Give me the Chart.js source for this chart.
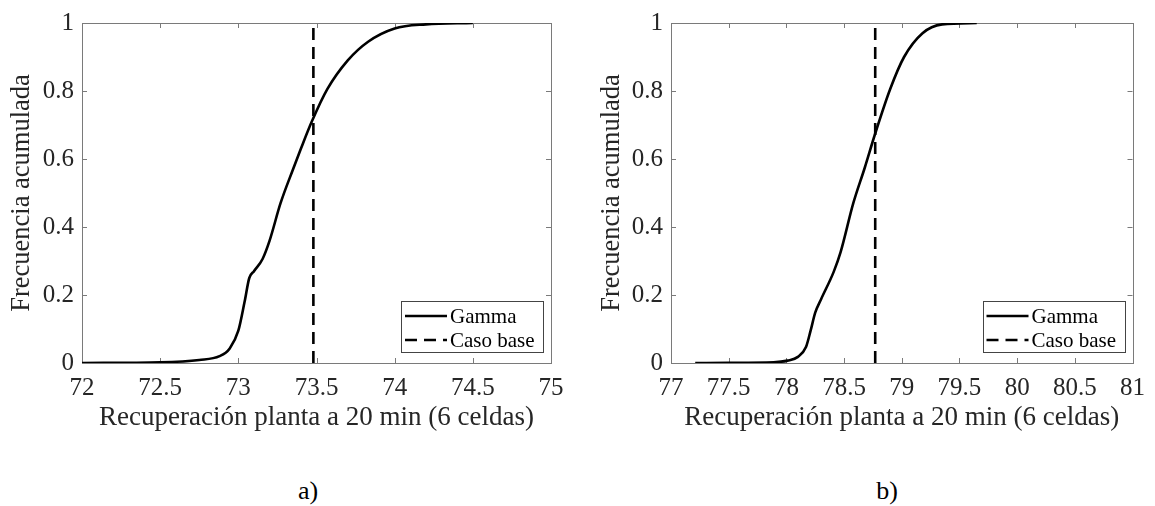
<!DOCTYPE html>
<html>
<head>
<meta charset="utf-8">
<script src="https://cdn.jsdelivr.net/npm/chart.js@4"></script>
<style>
body{margin:0;background:#fff;width:1155px;height:506px;position:relative;overflow:hidden;font-family:"Liberation Serif",serif;}
.panel{position:absolute;top:0;height:450px;}
.cap{position:absolute;font-size:26px;color:#000;transform:translate(-50%,-50%);}
</style>
</head>
<body>
<div class="panel" style="left:0;width:590px"><canvas id="chartA"></canvas></div>
<div class="panel" style="left:590px;width:565px"><canvas id="chartB"></canvas></div>
<div class="cap" style="left:308px;top:491px">a)</div>
<div class="cap" style="left:887px;top:491px">b)</div>
<script>
// panel a) - recuperación (%), frecuencia acumulada
const gammaAx = [72.0, 72.5, 72.75, 72.88, 72.945, 73.0, 73.04, 73.07, 73.1, 73.155, 73.2, 73.27, 73.35, 73.4, 73.47, 73.57, 73.7, 73.83, 74.0, 74.2, 74.5];
const gammaAy = [0.0, 0.002, 0.009, 0.02, 0.043, 0.095, 0.18, 0.25, 0.27, 0.306, 0.36, 0.47, 0.57, 0.63, 0.71, 0.806, 0.89, 0.945, 0.984, 0.996, 1.0];
const baseA = 73.48;

// panel b)
const gammaBx = [77.21, 77.5, 77.89, 78.01, 78.1, 78.17, 78.21, 78.25, 78.3, 78.41, 78.47, 78.58, 78.68, 78.77, 78.9, 79.02, 79.18, 79.35, 79.65];
const gammaBy = [0.0, 0.0005, 0.002, 0.007, 0.018, 0.047, 0.095, 0.148, 0.187, 0.268, 0.326, 0.47, 0.575, 0.675, 0.806, 0.90, 0.97, 0.996, 1.0];
const baseB = 78.77;

const xTitle = 'Recuperación planta a 20 min (6 celdas)';
const yTitle = 'Frecuencia acumulada';
const labels = ['Gamma', 'Caso base'];

const axisColor = '#7a7a7a';
const textColor = '#262626';
Chart.defaults.font.family = '"Liberation Serif", "Times New Roman", serif';
Chart.defaults.color = textColor;

// matlab style numbers: 1, 0.8, 72, 72.5
const fmt = v => String(+v.toFixed(2));

// box round the plot plus inward ticks on all four sides
const boxTicks = {
    id: 'boxTicks',
    beforeDatasetsDraw(chart) {
        const {ctx, chartArea: a, scales: {x, y}} = chart;
        ctx.save();
        ctx.strokeStyle = axisColor;
        ctx.lineWidth = 1;
        ctx.strokeRect(Math.round(a.left) + 0.5, Math.round(a.top) + 0.5, Math.round(a.right - a.left), Math.round(a.bottom - a.top));
        ctx.beginPath();
        x.ticks.forEach(t => {
            const px = Math.round(x.getPixelForValue(t.value)) + 0.5;
            ctx.moveTo(px, a.bottom); ctx.lineTo(px, a.bottom - 5);
            ctx.moveTo(px, a.top); ctx.lineTo(px, a.top + 5);
        });
        y.ticks.forEach(t => {
            const py = Math.round(y.getPixelForValue(t.value)) + 0.5;
            ctx.moveTo(a.left, py); ctx.lineTo(a.left + 5, py);
            ctx.moveTo(a.right, py); ctx.lineTo(a.right - 5, py);
        });
        ctx.stroke();
        ctx.restore();
    }
};

// legend inside the plot, lower right corner
const innerLegend = {
    id: 'innerLegend',
    afterDraw(chart) {
        const {ctx, chartArea: a} = chart;
        const w = 142, h = 51;
        const left = a.right - 8 - w, top = a.bottom - 11 - h;
        ctx.save();
        ctx.fillStyle = '#fff';
        ctx.fillRect(left, top, w, h);
        ctx.strokeStyle = '#444';
        ctx.lineWidth = 1;
        ctx.strokeRect(Math.round(left) + 0.5, Math.round(top) + 0.5, w, h);
        ctx.font = '21px "Liberation Serif", serif';
        ctx.textBaseline = 'middle';
        chart.data.datasets.forEach((ds, i) => {
            const yy = top + 15 + i * 24;
            ctx.strokeStyle = ds.borderColor;
            ctx.lineWidth = ds.borderWidth;
            ctx.setLineDash(ds.borderDash || []);
            ctx.beginPath();
            ctx.moveTo(left + 4, yy);
            ctx.lineTo(left + 46, yy);
            ctx.stroke();
            ctx.setLineDash([]);
            ctx.fillStyle = '#000';
            ctx.fillText(ds.label, left + 49, yy + 1);
        });
        ctx.restore();
    }
};

function makeChart(id, xs, ys, base, xMin, xMax, axisW, padRight) {
    const pts = xs.map((v, i) => ({x: v, y: ys[i]}));
    return new Chart(document.getElementById(id), {
        type: 'line',
        data: {
            datasets: [{
                label: labels[0],
                data: pts,
                borderColor: '#000',
                borderWidth: 2.6,
                pointRadius: 0,
                cubicInterpolationMode: 'monotone'
            }, {
                label: labels[1],
                data: [{x: base, y: 0}, {x: base, y: 1}],
                borderColor: '#000',
                borderWidth: 2.6,
                borderDash: [12, 7],
                pointRadius: 0
            }]
        },
        options: {
            responsive: true,
            maintainAspectRatio: false,
            animation: false,
            layout: {padding: {left: 0, right: padRight, top: 16, bottom: 0}},
            plugins: {legend: {display: false}, tooltip: {enabled: false}},
            scales: {
                x: {
                    type: 'linear',
                    min: xMin,
                    max: xMax,
                    grid: {display: false, drawTicks: false},
                    border: {display: false},
                    ticks: {stepSize: 0.5, maxRotation: 0, autoSkip: false, padding: 10, font: {size: 25}, callback: fmt},
                    title: {display: true, text: xTitle, font: {size: 27}, padding: {top: 0, bottom: 16}},
                    afterFit(s) { s.height = 87; }
                },
                y: {
                    min: 0,
                    max: 1,
                    grid: {display: false, drawTicks: false},
                    border: {display: false},
                    ticks: {stepSize: 0.2, padding: 8, font: {size: 25}, callback: fmt},
                    title: {display: true, text: yTitle, font: {size: 26.5}, padding: {top: 6, bottom: 0}},
                    afterFit(s) { s.width = axisW; }
                }
            }
        },
        plugins: [boxTicks, innerLegend]
    });
}

makeChart('chartA', gammaAx, gammaAy, baseA, 72, 75, 82, 39);
makeChart('chartB', gammaBx, gammaBy, baseB, 77, 81, 81, 15);
</script>
</body>
</html>
